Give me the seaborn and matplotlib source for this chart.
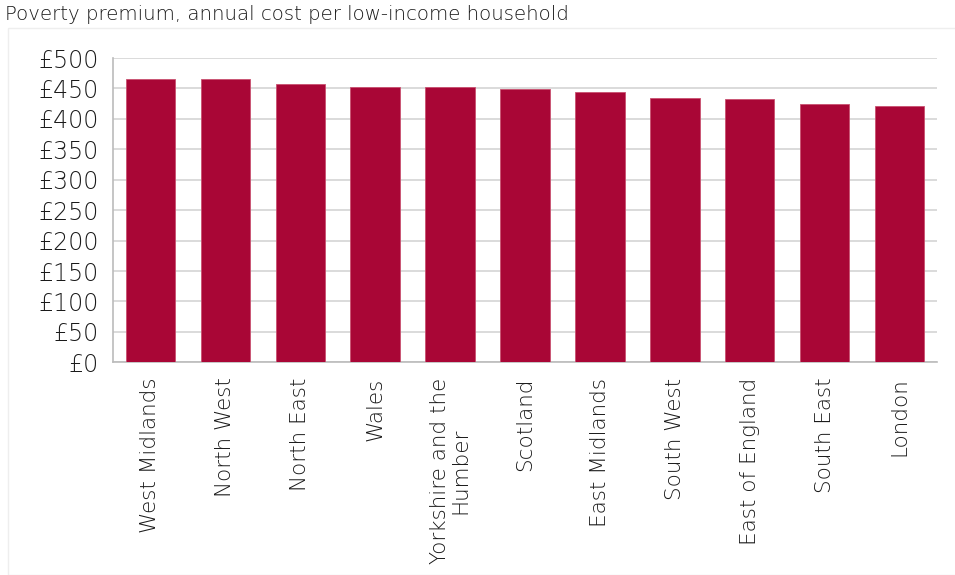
import matplotlib
matplotlib.use("Agg")
import matplotlib.pyplot as plt
import seaborn as sns
import pandas as pd
from matplotlib.patches import Rectangle

regions = ["West Midlands", "North West", "North East", "Wales",
           "Yorkshire and the\nHumber", "Scotland", "East Midlands",
           "South West", "East of England", "South East", "London"]
premium = [465, 465, 458, 452, 452, 449, 444, 435, 432, 425, 421]
y_ticks = [0, 50, 100, 150, 200, 250, 300, 350, 400, 450, 500]
y_tick_labels = ["£" + str(v) for v in y_ticks]
title = "Poverty premium, annual cost per low-income household"

sns.set_theme(style="white")
plt.rcParams['font.family'] = ['DejaVu Sans']

df = pd.DataFrame({"region": regions, "premium": premium})

fig = plt.figure(figsize=(9.55, 5.75), dpi=100)
ax = fig.add_axes([113/955, 1 - 362.3/575, (937-113)/955, (362.3-58)/575])

sns.barplot(data=df, x="region", y="premium", color="#A90636", saturation=1,
            width=0.66, ax=ax, zorder=3, edgecolor="#C9506F", linewidth=0.6)

ax.set_ylim(0, 500)
ax.set_xlim(-0.5, len(regions) - 0.5)
ax.set_yticks(y_ticks)
ax.set_yticklabels(y_tick_labels, fontsize=17, fontweight="light")
ax.set_xticks(range(len(regions)))
ax.set_xticklabels(regions, rotation=90, fontsize=15.5, fontweight="light",
                   ha="center", va="top", multialignment="center",
                   linespacing=1.0)
ax.tick_params(axis="both", length=0, labelcolor="#1A1A1A")
ax.tick_params(axis="x", pad=11)
ax.tick_params(axis="y", pad=10)
ax.set_xlabel("")
ax.set_ylabel("")
ax.yaxis.grid(True, color="#D4D4D4", linewidth=1.2, zorder=0)
ax.xaxis.grid(False)
for s in ["top", "right"]:
    ax.spines[s].set_visible(False)
for s in ["left", "bottom"]:
    ax.spines[s].set_color("#BBBBBB")
    ax.spines[s].set_linewidth(1.2)

fig.patches.append(Rectangle((8/955, 0), 1, 1 - 28/575, transform=fig.transFigure,
                             fill=False, edgecolor="#EEEEEE", linewidth=1))
fig.text(5/955, 1 - 15/575, title, fontsize=14.2, color="#1A1A1A",
         fontweight="light", va="center", ha="left")

fig.savefig("out.png", dpi=100)
